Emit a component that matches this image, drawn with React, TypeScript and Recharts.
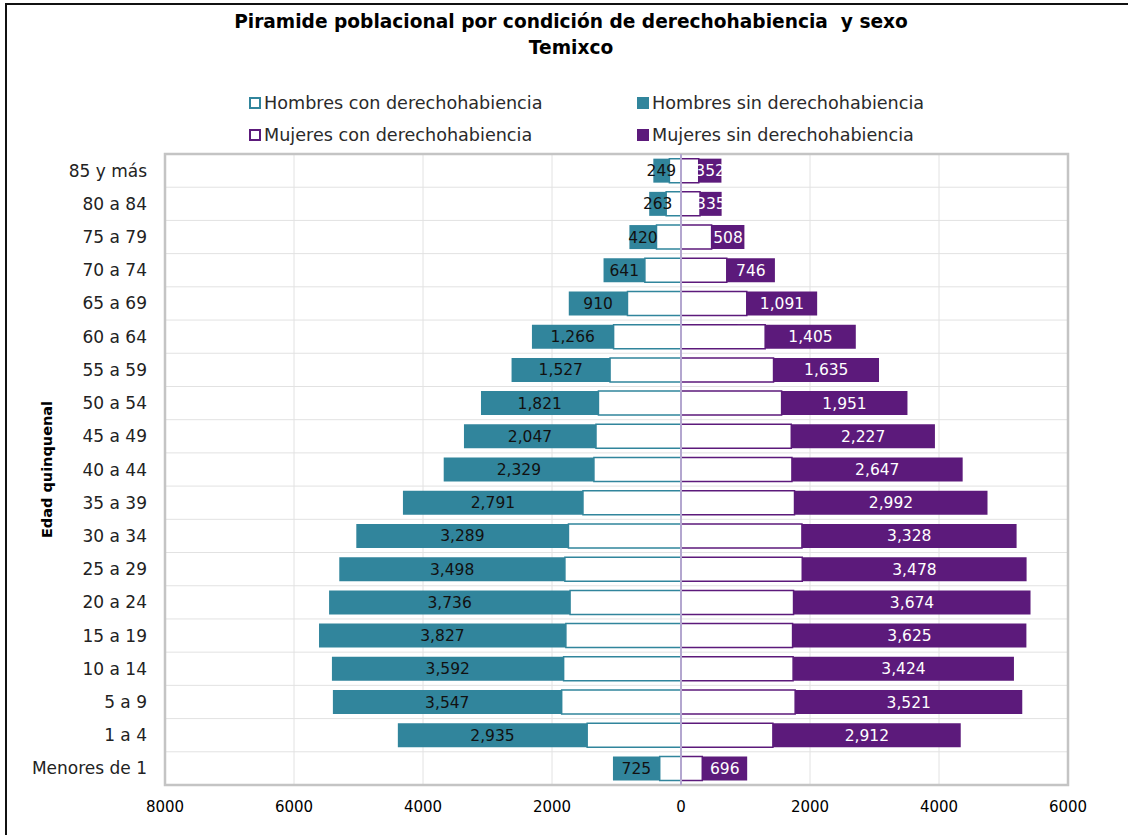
import React from "react";
import {
  BarChart,
  Bar,
  XAxis,
  YAxis,
  CartesianGrid,
  ReferenceLine,
  ReferenceArea,
  LabelList,
} from "recharts";

// Age groups, top to bottom
const ages = [
  "85 y más", "80 a 84", "75 a 79", "70 a 74", "65 a 69", "60 a 64",
  "55 a 59", "50 a 54", "45 a 49", "40 a 44", "35 a 39", "30 a 34",
  "25 a 29", "20 a 24", "15 a 19", "10 a 14", "5 a 9", "1 a 4", "Menores de 1",
];

const hombresCon = [180, 230, 380, 560, 830, 1045, 1100, 1280, 1318, 1350, 1520, 1745, 1800, 1720, 1785, 1820, 1850, 1455, 330];
const hombresSin = [249, 263, 420, 641, 910, 1266, 1527, 1821, 2047, 2329, 2791, 3289, 3498, 3736, 3827, 3592, 3547, 2935, 725];
const mujeresCon = [275, 295, 475, 710, 1020, 1305, 1435, 1560, 1710, 1720, 1760, 1875, 1880, 1745, 1730, 1738, 1770, 1425, 330];
const mujeresSin = [352, 335, 508, 746, 1091, 1405, 1635, 1951, 2227, 2647, 2992, 3328, 3478, 3674, 3625, 3424, 3521, 2912, 696];

const xTicks = [-8000, -6000, -4000, -2000, 0, 2000, 4000, 6000];

const TEAL = "#31859c";
const PURPLE = "#5c1a7b";
const FONT = "'DejaVu Sans', sans-serif";

const data = ages.map((age, i) => ({
  age,
  hombresCon: -hombresCon[i],
  hombresSin: -hombresSin[i],
  mujeresCon: mujeresCon[i],
  mujeresSin: mujeresSin[i],
}));

const fmt = (v: any) => Math.abs(Number(v)).toLocaleString("en-US");

const legendItems = [
  { name: "Hombres con derechohabiencia", color: TEAL, hollow: true },
  { name: "Hombres sin derechohabiencia", color: TEAL, hollow: false },
  { name: "Mujeres con derechohabiencia", color: PURPLE, hollow: true },
  { name: "Mujeres sin derechohabiencia", color: PURPLE, hollow: false },
];

const LegendBox = () => (
  <div
    style={{
      position: "absolute",
      left: 249,
      top: 90,
      display: "grid",
      gridTemplateColumns: "388px 300px",
      rowGap: 6,
      fontFamily: FONT,
      fontSize: 17.6,
      color: "#2a2a2a",
    }}
  >
    {legendItems.map((it) => (
      <div key={it.name} style={{ display: "flex", alignItems: "center", height: 26 }}>
        <span
          style={{
            display: "inline-block",
            width: 8,
            height: 8,
            border: `2px solid ${it.color}`,
            background: it.hollow ? "#fff" : it.color,
            marginRight: 3,
          }}
        />
        {it.name}
      </div>
    ))}
  </div>
);

export default function App() {
  return (
    <div
      style={{
        position: "fixed",
        left: 0,
        top: 0,
        width: 1128,
        height: 835,
        overflow: "hidden",
        background: "#fff",
      }}
    >
      {/* outer frame, runs past the right and bottom edges */}
      <div
        style={{
          position: "absolute",
          left: 5,
          top: 3,
          width: 1300,
          height: 1000,
          border: "2px solid #111",
        }}
      />
      <div
        style={{
          position: "absolute",
          left: 0,
          top: 9,
          width: 1142,
          textAlign: "center",
          fontFamily: FONT,
          fontWeight: "bold",
          fontSize: 18.6,
          lineHeight: "26px",
          color: "#000",
        }}
      >
        <div>Piramide poblacional por condición de derechohabiencia&nbsp; y sexo</div>
        <div>Temixco</div>
      </div>
      <LegendBox />
      <div style={{ position: "absolute", left: 0, top: 0 }}>
        <BarChart
          width={1128}
          height={835}
          data={data}
          layout="vertical"
          stackOffset="sign"
          barCategoryGap="14%"
          margin={{ top: 154, right: 60, bottom: 20, left: 15 }}
        >
          <CartesianGrid
            stroke="#e2e2e2"
            strokeWidth={1}
            horizontalCoordinatesGenerator={({ offset }: any) =>
              Array.from({ length: ages.length + 1 }, (_, i) => offset.top + (i * offset.height) / ages.length)
            }
          />
          <ReferenceArea
            x1={-8000}
            x2={6000}
            fill="none"
            stroke="#c4c4c4"
            strokeWidth={2.5}
            ifOverflow="extendDomain"
          />
          <XAxis
            type="number"
            domain={[-8000, 6000]}
            ticks={xTicks}
            tickFormatter={(v) => String(Math.abs(v))}
            axisLine={false}
            tickLine={false}
            tickMargin={10}
            height={30}
            tick={{ fill: "#000", fontSize: 15, fontFamily: FONT }}
          />
          <YAxis
            type="category"
            dataKey="age"
            width={150}
            axisLine={false}
            tickLine={false}
            tickMargin={12}
            interval={0}
            tick={{ fill: "#222", fontSize: 17, fontFamily: FONT }}
            label={{
              value: "Edad quinquenal",
              angle: -90,
              position: "insideLeft",
              offset: 32,
              style: { fontFamily: FONT, fontWeight: "bold", fontSize: 14.5, fill: "#000", textAnchor: "middle" },
            }}
          />
          <Bar dataKey="hombresCon" stackId="a" fill="#fff" stroke={TEAL} strokeWidth={1.5} isAnimationActive={false} />
          <Bar dataKey="hombresSin" stackId="a" fill={TEAL} isAnimationActive={false}>
            <LabelList
              dataKey="hombresSin"
              position="center"
              formatter={fmt}
              fill="#111"
              style={{ fontFamily: FONT, fontSize: 15.5 }}
            />
          </Bar>
          <Bar dataKey="mujeresCon" stackId="a" fill="#fff" stroke={PURPLE} strokeWidth={1.5} isAnimationActive={false} />
          <Bar dataKey="mujeresSin" stackId="a" fill={PURPLE} isAnimationActive={false}>
            <LabelList
              dataKey="mujeresSin"
              position="center"
              formatter={fmt}
              fill="#fff"
              style={{ fontFamily: FONT, fontSize: 15.5 }}
            />
          </Bar>
          <ReferenceLine x={0} stroke="#b3a6cf" strokeWidth={2} />
        </BarChart>
      </div>
    </div>
  );
}
